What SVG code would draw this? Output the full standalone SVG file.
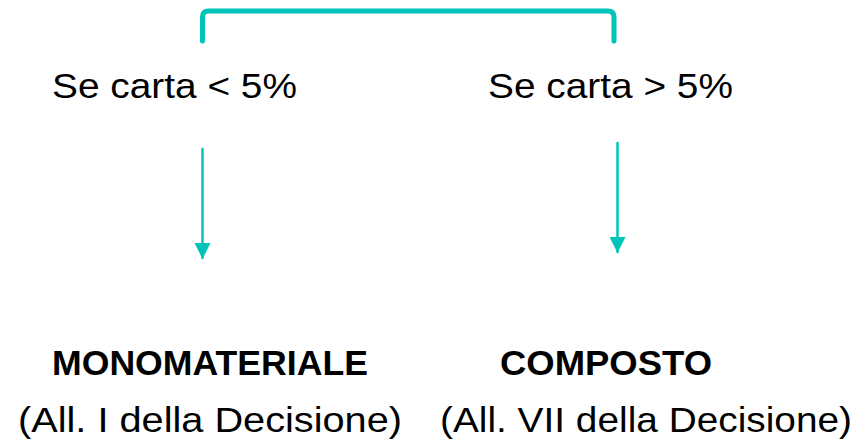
<svg xmlns="http://www.w3.org/2000/svg" width="862" height="441" viewBox="0 0 862 441">
<style>
.t{font-family:"Liberation Sans",Arial,sans-serif;font-size:35px;fill:#000}
.b{font-weight:bold}
.c{fill:none;stroke:#00C4B8;stroke-linecap:round}
</style>
<defs>
<marker id="ad" markerUnits="userSpaceOnUse" markerWidth="16" markerHeight="16" refX="15" refY="8" orient="auto" viewBox="0 0 16 16">
<path d="M0,0 L16,8 L0,16 Z" fill="#00C4B8"/>
</marker>
</defs>
<g id="connectors">
<path class="c" d="M202.5,41 V17 Q202.5,11 208.5,11 H608 Q614,11 614,17 V41" stroke-width="5"/>
<line class="c" x1="202.5" y1="149" x2="202.5" y2="258" stroke-width="2.5" stroke-linecap="butt" marker-end="url(#ad)"/>
<line class="c" x1="617.5" y1="143" x2="617.5" y2="252" stroke-width="2.5" stroke-linecap="butt" marker-end="url(#ad)"/>
</g>
<g id="cond-left"><text class="t" x="52" y="98" textLength="245" lengthAdjust="spacingAndGlyphs">Se carta &lt; 5%</text></g>
<g id="cond-right"><text class="t" x="488" y="98" textLength="245" lengthAdjust="spacingAndGlyphs">Se carta &gt; 5%</text></g>
<g id="monomateriale">
<text class="t b" x="52" y="375" textLength="316" lengthAdjust="spacingAndGlyphs">MONOMATERIALE</text>
<text class="t" x="18" y="432" textLength="384" lengthAdjust="spacingAndGlyphs">(All. I della Decisione)</text>
</g>
<g id="composto">
<text class="t b" x="500" y="375" textLength="212" lengthAdjust="spacingAndGlyphs">COMPOSTO</text>
<text class="t" x="440" y="432" textLength="412" lengthAdjust="spacingAndGlyphs">(All. VII della Decisione)</text>
</g>
</svg>
